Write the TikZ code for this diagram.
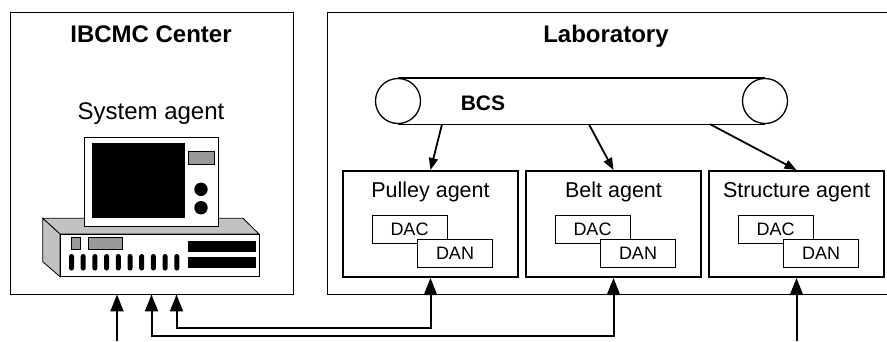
\documentclass[tikz,border=0pt]{standalone}
\usepackage{fontspec}
\setmainfont{Liberation Sans}
\usetikzlibrary{arrows.meta,positioning,calc}
\tikzstyle{panel}=[draw,line width=0.9pt,inner sep=0pt]
\tikzstyle{agentbox}=[draw,line width=2pt,minimum width=175pt,minimum height=106pt,inner sep=0pt]
\tikzstyle{tagbox}=[draw,fill=white,line width=0.8pt,minimum width=75pt,minimum height=28pt,inner sep=0pt,font=\fontsize{18}{18}\selectfont]
\tikzstyle{roller}=[circle,draw,line width=1.3pt,minimum size=45pt,inner sep=0pt]
\tikzstyle{heading}=[anchor=base,font=\bfseries\fontsize{24}{24}\selectfont]
\tikzstyle{caption}=[anchor=base,font=\fontsize{21.5}{21.5}\selectfont]
\tikzstyle{feed}=[draw,line width=1.8pt,-{Triangle[length=12pt,width=9pt]}]
\tikzstyle{uplink}=[draw,line width=2pt,-{Triangle[length=17pt,width=13pt]}]
\tikzstyle{link}=[draw,line width=2pt,{Triangle[length=17pt,width=13pt]}-{Triangle[length=17pt,width=13pt]}]
\definecolor{casegray}{gray}{0.76}
\definecolor{knobgray}{gray}{0.6}

\begin{document}
\begin{tikzpicture}[x=1pt,y=-1pt]
    \useasboundingbox (0,0) rectangle (887,341);

    % the two rooms
    \node[panel,minimum width=283pt,minimum height=282pt] (center) at (151.5,153) {};
    \node[panel,minimum width=570pt,minimum height=282pt] (lab) at (612,153) {};
    \node[heading] at (151,42) {IBCMC Center};
    \node[heading] at (606,42) {Laboratory};
    \node[caption,font=\fontsize{24}{24}\selectfont] at (151,119) {System agent};

    % computer: case first, then the monitor on top of it
    \filldraw[fill=casegray,line width=0.8pt] (42.7,218.3) -- (243,218.3) -- (259,234) -- (60,234) -- cycle;
    \filldraw[fill=casegray,line width=0.8pt] (42.7,218.3) -- (60,234) -- (60,276.7) -- (42.7,261.7) -- cycle;
    \filldraw[fill=white,line width=0.8pt] (60,234) rectangle (259,276.7);
    \filldraw[fill=knobgray,line width=0.6pt] (71,237.3) rectangle (80.7,249);
    \filldraw[fill=knobgray,line width=0.6pt] (88.3,237.3) rectangle (122.3,249);
    \fill (188.3,241) rectangle (255.7,251.7);
    \fill (188.3,257.3) rectangle (255.7,268.3);
    \foreach \i in {0,...,9}
        \fill[rounded corners=2.4pt] (69+11.7*\i,254) rectangle ++(5,16.5);
    \filldraw[fill=white,line width=0.8pt] (84.3,137.3) rectangle (218.3,226.7);
    \fill (92.3,143.3) rectangle (185,218.3);
    \filldraw[fill=knobgray,line width=0.6pt] (188.3,151.7) rectangle (214,164);
    \fill (201,189.3) circle (6.7pt);
    \fill (201,207.7) circle (6.7pt);

    % conveyor with the BCS
    \node[roller] (rollL) at (398,101) {};
    \node[roller] (rollR) at (765,101) {};
    \draw[line width=1.3pt] (rollL.north) -- (rollR.north) (rollL.south) -- (rollR.south);
    \node[anchor=base,font=\bfseries\fontsize{21}{21}\selectfont] (bcs) at (483,110) {BCS};

    % agents with their DAC / DAN
    \foreach \name/\x/\txt in {pulley/430.5/Pulley agent, belt/613.5/Belt agent, struct/796.5/Structure agent}{
        \node[agentbox] (\name) at (\x,224) {};
        \node[caption] at ([yshift=-27pt]\name.north) {\txt};
        \node[tagbox] (\name-dac) at ([xshift=-21pt,yshift=-5.5pt]\name.center) {DAC};
        \node[tagbox] (\name-dan) at ([xshift=24.5pt,yshift=-29pt]\name.center) {DAN};
    }

    % BCS feeds every agent
    \draw[feed] ($(rollL.south)!0.12!(rollR.south)$) -- (pulley.north);
    \draw[feed] ($(rollL.south)!0.52!(rollR.south)$) -- (belt.north);
    \draw[feed] ($(rollL.south)!0.85!(rollR.south)$) -- (struct.north);

    % links below the rooms
    \coordinate (floor) at (0,341);
    \coordinate (in1) at (117,341);
    \draw[uplink] (in1) -- (in1 |- center.south);
    \draw[link] (belt.south) -- ++(0,58) -| (center.south);
    \draw[link] (pulley.south) -- ++(0,50) -| ([xshift=25pt]center.south);
    \draw[uplink] (struct.south |- floor) -- (struct.south);
\end{tikzpicture}
\end{document}
